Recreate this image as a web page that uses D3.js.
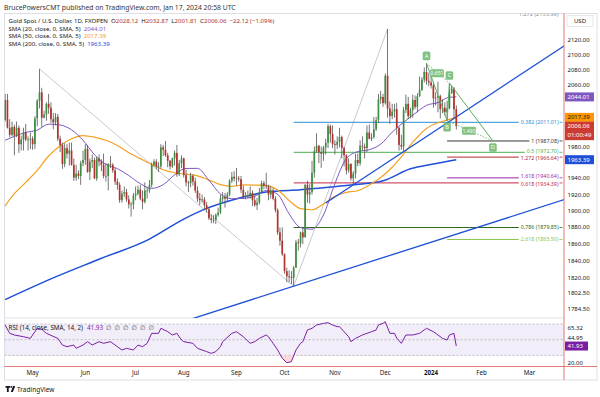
<!DOCTYPE html>
<html>
<head>
<meta charset="utf-8">
<script src="https://cdn.jsdelivr.net/npm/d3@7"></script>
<style>
  html, body { margin: 0; padding: 0; background: #fff; }
  svg { display: block; font-family: "Noto Sans", "DejaVu Sans", sans-serif; }
</style>
</head>
<body>
<svg id="chart" width="600" height="397"></svg>
<script>
// ---- data ----
const firstDay = "2023-04-13";
const lastAxisDay = "2024-03-29";
const holidays = ["2023-12-25", "2024-01-01"];

// daily candles [open, high, low, close], one per trading day from firstDay
const candles = [
  [2014,2048,2012,2040],[2040,2048,2003,2004],[2004,2015,1992,1995],[1995,2012,1993,2005],[2005,2008,1969,1994],
  [1994,2012,1992,2004],[2004,2007,1972,1983],[1983,1994,1975,1989],[1989,2004,1975,1998],[1998,2009,1987,1989],
  [1989,1993,1975,1989],[1989,1998,1977,1990],[1990,1993,1976,1983],[1983,2019,1977,2016],[2016,2041,2006,2039],
  [2039,2081,2029,2050],[2050,2056,2005,2017],[2017,2026,2016,2021],[2021,2037,2013,2035],[2035,2048,2022,2030],
  [2030,2037,2010,2015],[2015,2023,2002,2011],[2011,2023,2007,2018],[2018,2022,1987,1990],[1990,1994,1973,1982],
  [1982,1985,1952,1958],[1958,1984,1954,1978],[1978,1983,1965,1971],[1971,1985,1956,1975],[1975,1985,1956,1957],
  [1957,1965,1937,1941],[1941,1957,1937,1946],[1946,1950,1939,1943],[1943,1962,1932,1959],[1959,1975,1955,1963],
  [1963,1983,1957,1977],[1977,1982,1947,1948],[1948,1965,1938,1961],[1961,1970,1953,1963],[1963,1966,1939,1940],
  [1940,1967,1937,1965],[1965,1970,1955,1961],[1961,1964,1949,1957],[1957,1971,1940,1943],[1943,1959,1936,1943],
  [1943,1959,1925,1958],[1958,1968,1953,1957],[1957,1959,1947,1950],[1950,1953,1932,1936],[1936,1940,1926,1932],
  [1932,1935,1910,1913],[1913,1925,1910,1921],[1921,1930,1917,1923],[1923,1927,1911,1914],[1914,1919,1903,1908],
  [1908,1911,1893,1908],[1908,1922,1902,1919],[1919,1930,1913,1921],[1921,1931,1919,1926],[1926,1932,1913,1915],
  [1915,1925,1902,1911],[1911,1935,1909,1925],[1925,1929,1915,1925],[1925,1938,1922,1932],[1932,1960,1929,1957],
  [1957,1964,1955,1961],[1961,1964,1951,1955],[1955,1960,1948,1955],[1955,1983,1952,1979],[1979,1982,1968,1976],
  [1976,1987,1967,1969],[1969,1972,1954,1962],[1962,1963,1951,1955],[1955,1966,1953,1965],[1965,1975,1956,1972],
  [1972,1982,1942,1945],[1945,1963,1943,1959],[1959,1969,1953,1965],[1965,1966,1941,1944],[1944,1951,1930,1935],
  [1935,1937,1923,1934],[1934,1947,1929,1943],[1943,1945,1931,1936],[1936,1941,1922,1925],[1925,1930,1911,1915],
  [1915,1922,1907,1913],[1913,1920,1910,1914],[1914,1917,1902,1907],[1907,1911,1898,1902],[1902,1905,1889,1891],
  [1891,1896,1885,1889],[1889,1895,1885,1889],[1889,1897,1884,1895],[1895,1904,1893,1898],[1898,1920,1896,1915],
  [1915,1923,1911,1917],[1917,1922,1904,1915],[1915,1923,1912,1920],[1920,1939,1918,1937],[1937,1948,1934,1942],
  [1942,1949,1936,1940],[1940,1953,1931,1940],[1940,1943,1936,1939],[1939,1943,1922,1926],[1926,1931,1915,1917],
  [1917,1923,1914,1919],[1919,1925,1915,1919],[1919,1930,1915,1922],[1922,1925,1906,1913],[1913,1919,1905,1907],
  [1907,1916,1901,1910],[1910,1928,1908,1923],[1923,1937,1922,1934],[1934,1937,1927,1931],[1931,1947,1927,1930],
  [1930,1932,1913,1920],[1920,1930,1915,1925],[1925,1928,1913,1915],[1915,1918,1898,1901],[1901,1903,1871,1874],
  [1874,1880,1858,1864],[1864,1880,1846,1848],[1848,1849,1825,1828],[1828,1832,1815,1822],[1822,1829,1815,1821],
  [1821,1828,1813,1820],[1820,1834,1810.4,1832],[1832,1865,1832,1862],[1862,1866,1852,1861],[1861,1875,1856,1874],
  [1874,1880,1860,1868],[1868,1933,1868,1932],[1932,1937,1910,1920],[1920,1933,1909,1923],[1923,1962,1920,1947],
  [1947,1980,1941,1974],[1974,1997,1972,1981],[1981,1982,1959,1973],[1973,1980,1953,1971],[1971,1981,1962,1979],
  [1979,1990,1970,1985],[1985,2009,1978,2006],[2006,2008,1985,1996],[1996,2007,1978,1983],[1983,1988,1970,1982],
  [1982,1993,1977,1986],[1986,2004,1979,1992],[1992,1994,1965,1978],[1978,1980,1955,1969],[1969,1970,1945,1950],
  [1950,1965,1947,1958],[1958,1959,1937,1940],[1940,1949,1932,1946],[1946,1971,1940,1963],[1963,1971,1955,1959],
  [1959,1988,1956,1981],[1981,1993,1975,1980],[1980,1984,1965,1978],[1978,2007,1973,1998],[1998,2008,1989,1990],
  [1990,1997,1987,1992],[1992,2018,1990,2002],[2002,2018,2000,2014],[2014,2048,2010,2041],[2041,2052,2035,2044],
  [2044,2048,2031,2036],[2036,2075,2034,2072],[2072,2135,2017,2029],[2029,2038,2009,2019],[2019,2035,2015,2025],
  [2025,2035,2017,2028],[2028,2036,1995,2004],[2004,2005,1975,1982],[1982,1995,1976,1980],[1980,2031,1973,2027],
  [2027,2047,2023,2035],[2035,2044,2015,2019],[2019,2030,2016,2027],[2027,2047,2017,2040],[2040,2046,2028,2031],
  [2031,2049,2024,2045],[2045,2071,2044,2053],[2053,2070,2052,2067],[2067,2083,2063,2077],[2077,2088.5,2060,2065],
  [2065,2076,2058,2063],[2063,2078,2055,2059],[2059,2064,2030,2042],[2042,2050,2033,2043],[2043,2064,2024,2045],
  [2045,2047,2016,2028],[2028,2041,2023,2030],[2030,2037,2020,2024],[2024,2039,2013.2,2029],[2029,2062.4,2028,2049],
  [2049,2059,2048,2055],[2055,2057,2015,2028],[2028.12,2032.87,2001.81,2006.06]
];

// moving averages, read every few bars (bar index -> value)
const maIdx  = [0,4,9,14,19,24,29,34,39,44,49,54,59,64,69,74,79,84,89,94,99,104,109,114,119,124,129,134,139,144,149,154,159,164,169,174,179,184,189,194,197];
const sma20  = [1988,1993,1998,2001,2008.6,2007.5,2001.3,1988,1969.8,1957.5,1952.2,1943.5,1933.5,1927.6,1932.2,1944.4,1952.4,1952.5,1937.6,1920.7,1914.9,1915.3,1918,1925,1920.3,1896.3,1879.8,1877.9,1895,1933.5,1964.7,1973.6,1976,1983,1998.4,2011,2022.4,2033,2036.6,2043.6,2044.01];
const sma50  = [1906,1921,1935,1950,1968,1981,1990,1994,1992,1988,1981.4,1972.2,1964.7,1957.4,1950.8,1947,1945.2,1943.2,1937.9,1932.3,1930.2,1931.9,1931.7,1931.3,1925.5,1912.7,1902.7,1901.4,1908.4,1917.8,1922.6,1924.7,1931.7,1941,1953.9,1970.6,1988.7,2003,2010.5,2014.7,2017.39];
const sma200Idx = [0,20,41,63,78,88,100,114,129,152,165,177,187,197];
const sma200    = [1795,1819,1842,1866,1890,1903,1914,1923,1926,1932,1937,1952,1958,1963.39];

// RSI(14)
const rsiIdx = [0,2,4,8,11,14,16,18,23,25,27,30,31,34,36,38,41,43,46,49,51,53,56,58,60,62,64,67,68,71,73,75,77,78,82,84,88,90,92,94,95,99,101,104,107,109,111,114,115,117,119,121,123,125,127,129,130,132,134,136,139,141,143,145,146,148,150,151,153,156,158,160,162,163,165,166,168,170,171,173,175,178,181,183,184,187,189,191,193,194,196,197];
const rsiVal = [68.7,58.1,56,53.8,51.7,64.5,63.2,58.1,51.7,43.2,41.1,43.2,39,43.2,47.5,43.2,47.5,45.4,47.5,41.1,36.9,39,36.9,43.2,41.1,45.4,58.1,58.1,64.5,60.2,56,58.1,49.6,47.5,45.4,39,34.8,32.6,34.8,41.1,47.5,58.1,60.2,53.8,45.4,47.5,51.7,56,53.8,45.4,36.9,26.3,20.7,22,36.9,45.4,47.5,62.4,64.5,68.7,70.8,71.7,68.7,66.6,66.6,60.2,53.8,47.5,51.7,56,58.1,60.2,62.4,68.7,70.8,73,58.1,58.1,52,45.4,56,56,58.1,62.4,64.5,60.2,56,51.7,49.6,56,58.1,41.93];

// fibonacci levels: retracement (from the Oct low) and trend extension (from B)
const fibLabels = ["0.382 (2011.01)","0.5 (1972.70)","0.618 (1934.39)","0.786 (1879.85)","1 (1987.08)","1.272 (1966.64)","1.618 (1940.64)","2.618 (1865.50)"];
const fibPrices = [2011.01,1972.70,1934.39,1879.85,1987.08,1966.64,1940.64,1865.50];
const fibStart  = [126,126,126,126,193,193,193,193];
const fibColors = ["#2a8fd4","#4caf50","#c62848","#2e6b1f","#333333","#b22833","#9c27b0","#8bc34a"];
const fibLabelDy = [0,-1.3,1.4,0,0,1.3,-1.4,0];

// ABCD harmonic pattern points [bar index, price]
const abcdNames = ["A","B","C","D"];
const abcdPts = [[184,2088.5],[193,2013.2],[194,2062.4],[213,1987.08]];
const abcdRatios = ["0.651","1.493"];

// drawn trend lines [bar index, price] pairs
const grayLines = [[[15,2081],[126,1810.37]],[[126,1810.37],[167,2135.03]]];
const upperTrend = [[152,1932],[233.6,2090.7]];
const lowerTrend = [[126,1810.4],[243.6,1913.3]];

const priceTicks = [2120,2100,2080,2060,2040,2020,2000,1980,1960,1940,1920,1900,1880,1860,1840,1820,1802.5,1784.5];
const lastVals = { sma20: 2044.01, sma50: 2017.39, close: 2006.06, countdown: "01:00:49", sma200: 1963.39, rsi: 41.93, rsiA: 65.32, rsiB: 44.95 };

// ---- layout ----
const svg = d3.select("#chart");
const paneL = 4.5, paneR = 564, priceTop = 13.5, priceBot = 318, rsiBot = 366.5, frameBot = 380, frameR = 597;
const upCol = "#3e8e41", downCol = "#b3312c", wickCol = "#555";

const fmt = d3.timeFormat("%Y-%m-%d");
const parse = d3.timeParse("%Y-%m-%d");
const dates = d3.timeDay.range(parse(firstDay), parse(lastAxisDay))
  .filter(d => d.getDay() % 6 !== 0 && !holidays.includes(fmt(d)));

const x = d3.scaleLinear().domain([0, 244]).range([5.15, 563.9]);
const y = d3.scaleLog().domain([1773.9, 2156.3]).range([priceBot, priceTop]);
const yR = d3.scaleLinear().domain([15.86, 77.64]).range([rsiBot, priceBot]);

const defs = svg.append("defs");
defs.append("clipPath").attr("id", "cpPrice").append("rect")
  .attr("x", paneL).attr("y", priceTop).attr("width", paneR - paneL).attr("height", priceBot - priceTop);
defs.append("clipPath").attr("id", "cpRsi").append("rect")
  .attr("x", paneL).attr("y", priceBot).attr("width", paneR - paneL).attr("height", rsiBot - priceBot);
defs.append("clipPath").attr("id", "cpLow").append("rect")
  .attr("x", paneL).attr("y", yR(30)).attr("width", paneR - paneL).attr("height", rsiBot - yR(30));
defs.append("clipPath").attr("id", "cpHigh").append("rect")
  .attr("x", paneL).attr("y", priceBot).attr("width", paneR - paneL).attr("height", yR(70) - priceBot);

// header
svg.append("text").attr("x", 4).attr("y", 9.5).attr("font-size", 6.8).attr("fill", "#333")
  .text("BrucePowersCMT published on TradingView.com, Jan 17, 2024 20:58 UTC");

// frame
svg.append("rect").attr("x", paneL).attr("y", priceTop).attr("width", frameR - paneL).attr("height", frameBot - priceTop)
  .attr("fill", "none").attr("stroke", "#d6d8de").attr("stroke-width", 0.8);
svg.append("line").attr("x1", paneL).attr("x2", paneR).attr("y1", priceBot).attr("y2", priceBot)
  .attr("stroke", "#e0e3eb");

// ---- price pane ----
const gP = svg.append("g").attr("clip-path", "url(#cpPrice)");

// a straight line through two anchors, extended from bar i0 to bar i1
function extLine(g, pts, i0, i1, col, w) {
  const [a, b] = pts.map(p => [x(p[0]), y(p[1])]);
  const k = (b[1] - a[1]) / (b[0] - a[0]);
  const xa = x(i0), xb = x(i1);
  g.append("line").attr("x1", xa).attr("y1", a[1] + k * (xa - a[0]))
    .attr("x2", xb).attr("y2", a[1] + k * (xb - a[0]))
    .attr("stroke", col).attr("stroke-width", w);
}

grayLines.forEach(l => {
  gP.append("line").attr("x1", x(l[0][0])).attr("y1", y(l[0][1]))
    .attr("x2", x(l[1][0])).attr("y2", y(l[1][1]))
    .attr("stroke", "#b8bbc2").attr("stroke-width", 0.8);
});

// fib lines and labels
fibLabels.forEach((lab, k) => {
  const yy = y(fibPrices[k]);
  const t = svg.append("text").attr("x", 558.5).attr("y", yy + 1.7 + fibLabelDy[k]).attr("text-anchor", "end")
    .attr("font-size", 5.3).attr("fill", fibColors[k]).text(lab);
  const left = 558.5 - t.node().getComputedTextLength();
  gP.append("line").attr("x1", x(fibStart[k])).attr("x2", left - 2).attr("y1", yy).attr("y2", yy)
    .attr("stroke", fibColors[k]).attr("stroke-width", 1);
  svg.append("line").attr("x1", 559.5).attr("x2", 562.5).attr("y1", yy).attr("y2", yy)
    .attr("stroke", fibColors[k]).attr("stroke-width", 0.8);
});
// level label cut off by the top edge
gP.append("text").attr("x", 558.5).attr("y", 16).attr("text-anchor", "end")
  .attr("font-size", 5.6).attr("fill", "#8a8d95").text("1.272 (2153.99)");

// moving averages
const maLine = (idx, vals) => d3.line().curve(d3.curveMonotoneX)
  .x((d, i) => x(idx[i])).y(d => y(d))(vals);
gP.append("path").attr("d", maLine(sma200Idx, sma200)).attr("fill", "none")
  .attr("stroke", "#1e4fd6").attr("stroke-width", 1.5);
gP.append("path").attr("d", maLine(maIdx, sma50)).attr("fill", "none")
  .attr("stroke", "#f5a021").attr("stroke-width", 1.2);
gP.append("path").attr("d", maLine(maIdx, sma20)).attr("fill", "none")
  .attr("stroke", "#7e57c2").attr("stroke-width", 1);

// trend lines
extLine(gP, lowerTrend, 40, 246, "#1e4fd6", 1.3);
extLine(gP, upperTrend, 140, 246, "#1e4fd6", 1.3);

// candles
const cg = gP.append("g").selectAll("g").data(candles).join("g");
cg.append("rect")
  .attr("x", (d, i) => x(i) - 0.4).attr("width", 0.8)
  .attr("y", d => y(d[1])).attr("height", d => Math.max(0.5, y(d[2]) - y(d[1])))
  .attr("fill", wickCol);
cg.append("rect")
  .attr("x", (d, i) => x(i) - 0.85).attr("width", 1.7)
  .attr("y", d => y(Math.max(d[0], d[3])))
  .attr("height", d => Math.max(0.8, Math.abs(y(d[0]) - y(d[3]))))
  .attr("fill", d => d[3] >= d[0] ? upCol : downCol);

// ABCD pattern
const abcdCol = "#5cae60";
const P = abcdPts.map(p => [x(p[0]), y(p[1])]);
[[0,1],[1,2],[2,3]].forEach(([a, b]) => {
  gP.append("line").attr("x1", P[a][0]).attr("y1", P[a][1]).attr("x2", P[b][0]).attr("y2", P[b][1])
    .attr("stroke", abcdCol).attr("stroke-width", 1);
});
[[0,2],[1,3]].forEach(([a, b], k) => {
  gP.append("line").attr("x1", P[a][0]).attr("y1", P[a][1]).attr("x2", P[b][0]).attr("y2", P[b][1])
    .attr("stroke", abcdCol).attr("stroke-width", 0.8).attr("stroke-dasharray", "1.5,1.5");
  const mx = (P[a][0] + P[b][0]) / 2 - 1, my = (P[a][1] + P[b][1]) / 2;
  gP.append("rect").attr("x", mx - 7).attr("y", my - 4).attr("width", 14).attr("height", 8)
    .attr("rx", 1.5).attr("fill", "#7fc282");
  gP.append("text").attr("x", mx).attr("y", my + 2).attr("text-anchor", "middle")
    .attr("font-size", 5.2).attr("fill", "#fff").text(abcdRatios[k]);
});
abcdNames.forEach((n, k) => {
  const up = k % 2 === 0;
  const cy = P[k][1] + (up ? -7.5 : 6.5);
  gP.append("rect").attr("x", P[k][0] - 3.8).attr("y", cy - 4.3).attr("width", 7.6).attr("height", 8.6)
    .attr("rx", 1.5).attr("fill", "#7fc282");
  gP.append("text").attr("x", P[k][0]).attr("y", cy + 2).attr("text-anchor", "middle")
    .attr("font-size", 5.6).attr("fill", "#fff").text(n);
});

// legend
const lg = svg.append("g").attr("font-size", 6.1).attr("fill", "#131722");
const l1 = lg.append("text").attr("x", 8.5).attr("y", 22.5);
l1.append("tspan").text("Gold Spot / U.S. Dollar, 1D, FXOPEN");
[["O","2028.12"],["H","2032.87"],["L","2001.81"],["C","2006.06"]].forEach(([a, b]) => {
  l1.append("tspan").attr("dx", 3).text(a);
  l1.append("tspan").attr("fill", downCol).text(b);
});
l1.append("tspan").attr("dx", 3).attr("fill", downCol).text("\u221222.12 (\u22121.09%)");
[["SMA (20, close, 0, SMA, 5)", "2044.01", "#7e57c2", 30.5],
 ["SMA (50, close, 0, SMA, 5)", "2017.39", "#f5a021", 38.3],
 ["SMA (200, close, 0, SMA, 5)", "1963.39", "#1e4fd6", 46.1]].forEach(([a, b, c, yy]) => {
  const t = lg.append("text").attr("x", 8.5).attr("y", yy);
  t.append("tspan").text(a);
  t.append("tspan").attr("dx", 3).attr("fill", c).text(b);
});

// ---- RSI pane ----
const gR = svg.append("g").attr("clip-path", "url(#cpRsi)");
gR.append("rect").attr("x", paneL).attr("width", paneR - paneL)
  .attr("y", yR(70)).attr("height", yR(30) - yR(70)).attr("fill", "#7e57c2").attr("fill-opacity", 0.1);
[70, 50, 30].forEach(v => {
  gR.append("line").attr("x1", paneL).attr("x2", paneR).attr("y1", yR(v)).attr("y2", yR(v))
    .attr("stroke", "#a3a6ad").attr("stroke-width", 0.7).attr("stroke-dasharray", "2,2");
});
const rsiArea = (base) => d3.area().x((d, i) => x(rsiIdx[i])).y0(yR(base)).y1(d => yR(d))(rsiVal);
gR.append("path").attr("d", rsiArea(30)).attr("fill", "#ff5252").attr("fill-opacity", 0.22)
  .attr("clip-path", "url(#cpLow)");
gR.append("path").attr("d", rsiArea(70)).attr("fill", "#4caf50").attr("fill-opacity", 0.18)
  .attr("clip-path", "url(#cpHigh)");
gR.append("path").attr("d", d3.line().x((d, i) => x(rsiIdx[i])).y(d => yR(d))(rsiVal))
  .attr("fill", "none").attr("stroke", "#7b1fa2").attr("stroke-width", 1);

const rl = svg.append("text").attr("x", 8.5).attr("y", 330).attr("font-size", 6.3).attr("fill", "#131722");
rl.append("tspan").text("RSI (14, close, SMA, 14, 2)");
rl.append("tspan").attr("dx", 4).attr("fill", "#7b1fa2").text(lastVals.rsi.toFixed(2));
d3.range(6).forEach(() => rl.append("tspan").attr("dx", 3).attr("fill", "#555").text("\u2205"));

// red border lines of the axes
svg.append("line").attr("x1", paneR).attr("x2", paneR).attr("y1", priceTop).attr("y2", frameBot)
  .attr("stroke", "#e06a6a").attr("stroke-width", 0.9);
svg.append("line").attr("x1", paneL).attr("x2", frameR).attr("y1", rsiBot).attr("y2", rsiBot)
  .attr("stroke", "#e06a6a").attr("stroke-width", 0.9);

// ---- price axis ----
const boxes = [
  { v: lastVals.sma20, h: 9, fill: "#7e57c2", col: "#fff", lines: [lastVals.sma20.toFixed(2)] },
  { v: lastVals.sma50, h: 9, fill: "#ff9800", col: "#131722", lines: [lastVals.sma50.toFixed(2)] },
  { v: lastVals.close, h: 18.5, fill: "#cc3a32", col: "#fff", lines: [lastVals.close.toFixed(2), lastVals.countdown] },
  { v: lastVals.sma200, h: 9, fill: "#1e4fd6", col: "#fff", lines: [lastVals.sma200.toFixed(2)] }
];
boxes.forEach(b => { b.top = y(b.v) - 4.5; b.bot = b.top + b.h; });

const ax = svg.append("g").attr("font-size", 6).attr("fill", "#131722");
priceTicks.filter(v => boxes.every(b => y(v) + 3.5 < b.top || y(v) - 3.5 > b.bot)).forEach(v => {
  ax.append("text").attr("x", 567.5).attr("y", y(v) + 2).text(v.toFixed(2));
});
svg.append("rect").attr("x", 567).attr("y", 15.5).attr("width", 26).attr("height", 11)
  .attr("fill", "#fff").attr("stroke", "#d6d8de").attr("stroke-width", 0.6);
svg.append("text").attr("x", 580).attr("y", 23).attr("text-anchor", "middle").attr("font-size", 6)
  .attr("fill", "#131722").text("USD");

boxes.forEach(b => {
  svg.append("rect").attr("x", 565).attr("y", b.top).attr("width", 29).attr("height", b.h).attr("fill", b.fill);
  b.lines.forEach((s, k) => {
    svg.append("text").attr("x", 567.5).attr("y", b.top + 6.6 + k * 9).attr("font-size", 6)
      .attr("fill", b.col).text(s);
  });
});

// RSI axis
const rsiBoxY = yR(lastVals.rsi);
ax.append("text").attr("x", 567.5).attr("y", yR(lastVals.rsiA) + 2).text(lastVals.rsiA.toFixed(2));
ax.append("text").attr("x", 567.5).attr("y", Math.min(yR(lastVals.rsiB), rsiBoxY - 8.5) + 2).text(lastVals.rsiB.toFixed(2));
ax.append("text").attr("x", 567.5).attr("y", yR(20) + 2).text("20.00");
svg.append("rect").attr("x", 565).attr("y", rsiBoxY - 4.5).attr("width", 23).attr("height", 9).attr("fill", "#7b1fa2");
svg.append("text").attr("x", 567.5).attr("y", rsiBoxY + 2.1).attr("font-size", 6).attr("fill", "#fff")
  .text(lastVals.rsi.toFixed(2));

// ---- time axis ----
const monthTicks = dates.map((d, i) => ({ d, i }))
  .filter(o => o.i > 0 && o.d.getMonth() !== dates[o.i - 1].getMonth() && x(o.i) < paneR - 10);
svg.append("g").attr("font-size", 6.2).attr("fill", "#131722").selectAll("text").data(monthTicks).join("text")
  .attr("x", o => x(o.i)).attr("y", 375).attr("text-anchor", "middle")
  .attr("font-weight", o => o.d.getMonth() === 0 ? "bold" : null)
  .text(o => o.d.getMonth() === 0 ? d3.timeFormat("%Y")(o.d) : d3.timeFormat("%b")(o.d));

// ---- TradingView mark ----
const logo = svg.append("g").attr("transform", "translate(5.5,386)").attr("fill", "#131722");
logo.append("path").attr("d", "M0 0h4.6v1.8h-1.4v4.2h-1.8v-4.2h-1.4z");
logo.append("circle").attr("cx", 5.8).attr("cy", 0.9).attr("r", 0.9);
logo.append("path").attr("d", "M7.6 0h2.1l-2.3 6h-2.1z");
svg.append("text").attr("x", 17).attr("y", 391.5).attr("font-size", 6.5).attr("fill", "#131722").text("TradingView");
</script>
</body>
</html>
